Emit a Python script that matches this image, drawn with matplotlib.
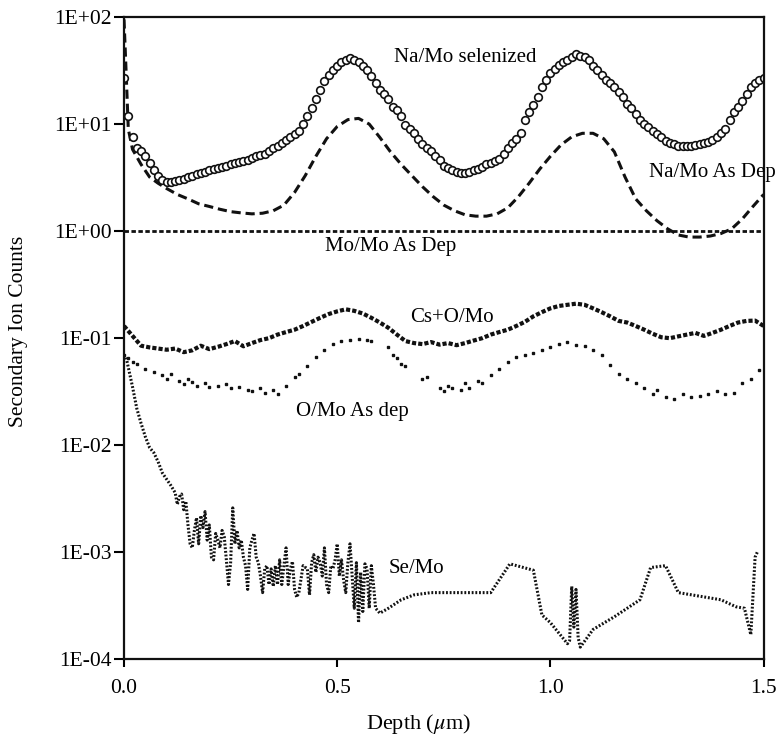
#Depth profile of secondary ion counts, redrawn from a scanned figure

import matplotlib
matplotlib.use('Agg')
import matplotlib.pyplot as plt
import numpy as np

plt.rcParams['font.family'] = ['Liberation Serif', 'DejaVu Serif']
plt.rcParams['mathtext.fontset'] = 'stix'

# Na/Mo selenized (open circles), every 0.01 um
na_sel_x = np.arange(0, 151) / 100
na_sel = [27, 12, 7.5, 6.0, 5.6, 5.0, 4.3, 3.7, 3.3, 3.0,
          2.9, 2.9, 2.95, 3.0, 3.1, 3.2, 3.3, 3.4, 3.5, 3.6,
          3.7, 3.8, 3.9, 4.0, 4.1, 4.2, 4.3, 4.4, 4.5, 4.6,
          4.8, 5.0, 5.1, 5.3, 5.6, 6.0, 6.3, 6.7, 7.1, 7.6,
          8.0, 8.6, 10, 12, 14, 17, 21, 25, 29, 32,
          35, 38, 40, 41, 40, 38, 35, 32, 28, 24,
          21, 19, 17, 14.5, 13.5, 12, 9.8, 9.0, 8.2, 7.3,
          6.5, 6.0, 5.6, 5.0, 4.6, 4.1, 3.9, 3.7, 3.55, 3.5,
          3.5, 3.6, 3.7, 3.8, 4.0, 4.2, 4.3, 4.5, 4.7, 5.3,
          6.0, 6.6, 7.3, 8.3, 11, 13, 15, 18, 22, 26,
          30, 33, 36, 38, 40, 42, 45, 43, 42, 40,
          35, 32, 29, 26, 24, 22, 20, 18, 15.5, 14,
          12.5, 11, 10, 9.3, 8.6, 8.0, 7.5, 7.0, 6.7, 6.5,
          6.3, 6.2, 6.2, 6.3, 6.4, 6.5, 6.6, 6.8, 7.1, 7.6,
          8.2, 9.0, 11, 13, 14.5, 16.5, 19, 22, 24, 26, 27]

# Na/Mo As Dep (dashed)
na_dep_x = [0.0, 0.005, 0.01, 0.02, 0.04, 0.06, 0.08, 0.10, 0.125, 0.15,
            0.175, 0.20, 0.225, 0.25, 0.275, 0.30, 0.325, 0.35, 0.375, 0.40,
            0.425, 0.45, 0.475, 0.50, 0.525, 0.55, 0.575, 0.60, 0.625, 0.65,
            0.675, 0.70, 0.725, 0.75, 0.775, 0.80, 0.825, 0.85, 0.875, 0.90,
            0.925, 0.95, 0.975, 1.00, 1.025, 1.05, 1.075, 1.10, 1.125, 1.15,
            1.175, 1.20, 1.225, 1.25, 1.275, 1.30, 1.325, 1.35, 1.375, 1.40,
            1.425, 1.45, 1.475, 1.50]
na_dep = [95, 30, 9, 5.8, 4.2, 3.2, 2.8, 2.5, 2.2, 2.0,
          1.8, 1.7, 1.6, 1.52, 1.48, 1.45, 1.47, 1.55, 1.75, 2.3,
          3.3, 5.0, 7.3, 9.5, 11, 11.3, 10, 7.5, 5.5, 4.2,
          3.3, 2.6, 2.1, 1.75, 1.55, 1.42, 1.38, 1.38, 1.45, 1.65,
          2.1, 2.8, 3.8, 5.0, 6.4, 7.6, 8.2, 8.2, 7.3, 5.5,
          3.2, 2.0, 1.55, 1.25, 1.05, 0.92, 0.88, 0.88, 0.9, 0.95,
          1.05, 1.3, 1.7, 2.2]

# Mo/Mo As Dep (flat dotted)
mo_x = [0.0, 1.5]
mo = [1.0, 1.0]

# Cs+O/Mo, every 0.02 um
cs_x = np.arange(0, 76) / 50
cs = [0.13, 0.105, 0.085, 0.082, 0.08, 0.078, 0.08, 0.074, 0.077, 0.085,
      0.079, 0.083, 0.088, 0.094, 0.084, 0.09, 0.096, 0.1, 0.108, 0.114,
      0.12, 0.13, 0.142, 0.155, 0.168, 0.178, 0.186, 0.18, 0.17, 0.155,
      0.14, 0.125, 0.108, 0.094, 0.09, 0.088, 0.092, 0.087, 0.09, 0.086,
      0.09, 0.095, 0.1, 0.108, 0.114, 0.12, 0.13, 0.142, 0.16, 0.175,
      0.19, 0.2, 0.205, 0.21, 0.205, 0.19, 0.175, 0.16, 0.145, 0.14,
      0.13, 0.12, 0.11, 0.102, 0.1, 0.104, 0.108, 0.112, 0.105, 0.112,
      0.12, 0.13, 0.14, 0.145, 0.146, 0.13]

# O/Mo As dep (scattered dots)
o_x = [0.00, 0.01, 0.02, 0.03, 0.05, 0.07, 0.09, 0.10, 0.11, 0.13,
       0.14, 0.15, 0.16, 0.17, 0.19, 0.20, 0.22, 0.24, 0.25, 0.27,
       0.29, 0.30, 0.32, 0.33, 0.35, 0.36, 0.38, 0.40, 0.41, 0.43,
       0.45, 0.47, 0.49, 0.51, 0.53, 0.55, 0.57, 0.58, 0.62, 0.63,
       0.64, 0.65, 0.66, 0.70, 0.71, 0.74, 0.75, 0.76, 0.77, 0.79,
       0.80, 0.81, 0.83, 0.84, 0.86, 0.88, 0.90, 0.92, 0.94, 0.96,
       0.98, 1.00, 1.02, 1.04, 1.06, 1.08, 1.10, 1.12, 1.14, 1.16,
       1.18, 1.20, 1.22, 1.24, 1.25, 1.27, 1.29, 1.31, 1.33, 1.35,
       1.37, 1.39, 1.41, 1.43, 1.45, 1.47, 1.49]
o_mo = [0.07, 0.065, 0.06, 0.058, 0.052, 0.048, 0.045, 0.042, 0.046, 0.04,
        0.037, 0.042, 0.039, 0.036, 0.038, 0.035, 0.036, 0.037, 0.034, 0.035,
        0.033, 0.032, 0.034, 0.031, 0.033, 0.03, 0.036, 0.043, 0.046, 0.055,
        0.066, 0.078, 0.088, 0.094, 0.097, 0.098, 0.097, 0.094, 0.082, 0.07,
        0.065, 0.058, 0.055, 0.042, 0.043, 0.034, 0.032, 0.036, 0.034, 0.033,
        0.038, 0.034, 0.04, 0.038, 0.045, 0.052, 0.06, 0.066, 0.07, 0.072,
        0.078, 0.082, 0.088, 0.092, 0.086, 0.084, 0.078, 0.07, 0.056, 0.046,
        0.042, 0.038, 0.034, 0.03, 0.033, 0.028, 0.027, 0.03, 0.028, 0.029,
        0.03, 0.032, 0.03, 0.031, 0.038, 0.042, 0.05]

# Se/Mo (noisy dotted line)
se_x = [0.005, 0.02, 0.03, 0.04, 0.05, 0.06, 0.07, 0.08, 0.09, 0.10,
        0.11, 0.12, 0.125, 0.13, 0.135, 0.14, 0.145, 0.15, 0.155, 0.16,
        0.165, 0.17, 0.175, 0.18, 0.185, 0.19, 0.195, 0.20, 0.205, 0.21,
        0.215, 0.22, 0.225, 0.23, 0.235, 0.24, 0.245, 0.25, 0.255, 0.26,
        0.265, 0.27, 0.275, 0.28, 0.285, 0.29, 0.295, 0.30, 0.305, 0.31,
        0.315, 0.32, 0.325, 0.33, 0.335, 0.34, 0.345, 0.35, 0.355, 0.36,
        0.365, 0.37, 0.375, 0.38, 0.385, 0.39, 0.395, 0.40, 0.405, 0.41,
        0.42, 0.43, 0.435, 0.44, 0.445, 0.45, 0.455, 0.46, 0.465, 0.47,
        0.475, 0.48, 0.485, 0.49, 0.495, 0.50, 0.505, 0.51, 0.515, 0.52,
        0.525, 0.53, 0.535, 0.54, 0.545, 0.55, 0.555, 0.56, 0.565, 0.57,
        0.575, 0.58, 0.585, 0.59, 0.60, 0.62, 0.65, 0.68, 0.72, 0.80,
        0.86, 0.905, 0.96, 0.98, 1.00, 1.04, 1.045, 1.05, 1.055, 1.06,
        1.065, 1.07, 1.10, 1.15, 1.21, 1.235, 1.27, 1.30, 1.40, 1.435,
        1.455, 1.47, 1.48, 1.485]
se_mo = [0.066, 0.035, 0.022, 0.016, 0.012, 0.0095, 0.0085, 0.007, 0.0055, 0.0048,
         0.0042, 0.0036, 0.0028, 0.0033, 0.0035, 0.0025, 0.003, 0.0018, 0.0012, 0.0011,
         0.0016, 0.0021, 0.0012, 0.0022, 0.0017, 0.0024, 0.0013, 0.0018, 0.0009, 0.00085,
         0.0015, 0.0013, 0.0011, 0.0016, 0.0014, 0.00085, 0.0005, 0.0008, 0.0026, 0.0012,
         0.0016, 0.0011, 0.0013, 0.0009, 0.00075, 0.00045, 0.0011, 0.0013, 0.0015, 0.0009,
         0.0008, 0.0006, 0.00042, 0.0007, 0.00075, 0.0005, 0.0007, 0.00048, 0.00075, 0.0005,
         0.00085, 0.0005, 0.00075, 0.0011, 0.0005, 0.0007, 0.00082, 0.00045, 0.00038, 0.00042,
         0.00075, 0.0007, 0.0004, 0.0008, 0.00095, 0.00065, 0.0009, 0.0008, 0.0006, 0.0011,
         0.0005, 0.00042, 0.00075, 0.0007, 0.00085, 0.0012, 0.0006, 0.00085, 0.00055, 0.00042,
         0.0008, 0.0012, 0.0006, 0.0003, 0.0008, 0.00022, 0.00065, 0.00028, 0.00078, 0.0007,
         0.0003, 0.00075, 0.0005, 0.0003, 0.00027, 0.0003, 0.00036, 0.0004, 0.00042, 0.00042,
         0.00042, 0.00078, 0.00068, 0.00026, 0.00022, 0.00014, 0.00015, 0.00048, 0.0002, 0.00045,
         0.00016, 0.00013, 0.00019, 0.00025, 0.00036, 0.00072, 0.00075, 0.00042, 0.00036, 0.00031,
         0.0003, 0.00017, 0.0009, 0.001]

ytick_vals = [1e2, 1e1, 1e0, 1e-1, 1e-2, 1e-3, 1e-4]
ytick_labels = ['1E+02', '1E+01', '1E+00', '1E-01', '1E-02', '1E-03', '1E-04']
xtick_vals = [0.0, 0.5, 1.0, 1.5]
xtick_labels = ['0.0', '0.5', '1.0', '1.5']

fig = plt.figure(figsize=(7.8, 7.4), dpi=100)
ax = fig.add_axes([0.159, 0.109, 0.82, 0.868])

ink = '#111111'
ax.plot(mo_x, mo, color=ink, lw=2.0, linestyle=(0, (1.6, 0.9)))
ax.plot(na_dep_x, na_dep, color=ink, lw=2.2, linestyle=(0, (3.0, 1.6)))
ax.plot(na_sel_x, na_sel, linestyle='none', marker='o', ms=5.5,
        mfc='white', mec=ink, mew=1.2)
ax.plot(cs_x, cs, color=ink, lw=3.0, linestyle=(0, (1.0, 0.5)))
ax.plot(o_x, o_mo, linestyle='none', marker='s', ms=1.6, color=ink)
ax.plot(se_x, se_mo, color=ink, lw=2.2, linestyle=(0, (0.6, 0.6)))

fs = 15
ax.text(0.80, 42, 'Na/Mo selenized', fontsize=fs, ha='center', va='center')
ax.text(1.38, 3.5, 'Na/Mo As Dep', fontsize=fs, ha='center', va='center', clip_on=False)
ax.text(0.625, 0.72, 'Mo/Mo As Dep', fontsize=fs, ha='center', va='center')
ax.text(0.77, 0.157, 'Cs+O/Mo', fontsize=fs, ha='center', va='center')
ax.text(0.535, 0.0208, 'O/Mo As dep', fontsize=fs, ha='center', va='center')
ax.text(0.686, 0.00071, 'Se/Mo', fontsize=fs, ha='center', va='center')

ax.set_yscale('log')
ax.set_xlim(0, 1.5)
ax.set_ylim(1e-4, 1e2)
ax.set_yticks(ytick_vals)
ax.set_yticklabels(ytick_labels)
ax.set_xticks(xtick_vals)
ax.set_xticklabels(xtick_labels)
ax.minorticks_off()
ax.tick_params(axis='y', direction='out', length=7, width=1.5, labelsize=15.5, pad=2)
ax.tick_params(axis='x', direction='out', length=6, width=1.5, labelsize=15.5, pad=8)
for s in ax.spines.values():
    s.set_linewidth(1.6)
    s.set_color(ink)

fig.text(19 / 780, 1 - 331 / 740, 'Secondary Ion Counts', fontsize=15.5,
         rotation=90, ha='center', va='center')
ax.set_xlabel('Depth ($\\mu$m)', fontsize=16)
ax.xaxis.set_label_coords(0.461, -0.082)

fig.savefig('out.png', dpi=100)
